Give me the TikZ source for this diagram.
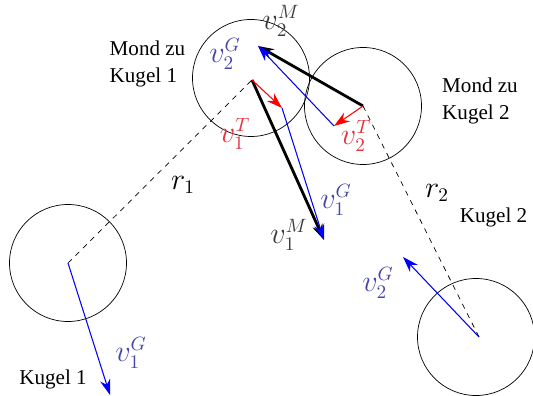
\documentclass[tikz,border=0pt]{standalone}
\usepackage{amsmath,amssymb}
\usepackage{fontspec}
\setmainfont{Liberation Serif}
\usepackage{tikz}
\usetikzlibrary{arrows.meta,calc}

\definecolor{labblue}{RGB}{70,70,170}
\definecolor{labred}{RGB}{230,50,60}
\definecolor{labgray}{RGB}{60,60,60}

\begin{document}
\begin{tikzpicture}[>={Stealth[length=9pt,width=6pt]}, every node/.style={font=\fontsize{12}{15}\selectfont},
    body/.style={thin},
    grav/.style={->, blue, semithick},
    tang/.style={->, red, semithick},
    moon/.style={->, black, line width=1.6pt},
    conn/.style={dashed, thin},
    vlab/.style={font=\fontsize{16}{18}\selectfont, inner sep=1pt},
    glab/.style={vlab, text=labblue},
    tlab/.style={vlab, text=labred},
    mlab/.style={vlab, text=labgray}]
    \useasboundingbox (0,0) rectangle (10.66,7.92);

    % Centres
    \coordinate (K1) at (1.36,2.66);
    \coordinate (M1) at (5.04,6.32);
    \coordinate (M2) at (7.26,5.80);
    \coordinate (K2) at (9.58,1.18);

    % Tips of the vectors
    \coordinate (K1G) at ($(K1)+(0.84,-2.64)$);
    \coordinate (M1T) at ($(M1)+(0.60,-0.56)$);
    \coordinate (M1G) at ($(M1T)+(0.84,-2.64)$);
    \coordinate (K2G) at ($(K2)+(-1.52,1.60)$);
    \coordinate (M2T) at ($(M2)+(-0.58,-0.40)$);
    \coordinate (M2G) at ($(M2T)+(-1.52,1.60)$);

    % Bodies
    \draw[body] (K1) circle (1.17);
    \draw[body] (5.02,6.36) circle (1.17);
    \draw[body] (M2) circle (1.17);
    \draw[body] (9.52,1.18) circle (1.17);

    % Distances
    \draw[conn] (K1) -- (M1);
    \draw[conn] (M2) -- (K2);

    % Vectors
    \draw[grav] (K1) -- (K1G);
    \draw[grav] (K2) -- (K2G);
    \draw[moon] (M1) -- (M1G);
    \draw[moon] (M2) -- (M2G);
    \draw[grav] (M1T) -- (M1G);
    \draw[grav] (M2T) -- (M2G);
    \draw[tang] (M1) -- (M1T);
    \draw[tang] (M2) -- (M2T);

    % Labels
    \node[align=left] (mk1) at (2.95,6.64) {Mond zu\\Kugel 1};
    \node[align=left] (mk2) at (9.60,5.90) {Mond zu\\Kugel 2};
    \node (k1) at (1.06,0.34) {Kugel 1};
    \node (k2) at (9.87,3.58) {Kugel 2};
    \node[vlab] (r1) at (3.66,4.22) {$r_1$};
    \node[vlab] (r2) at (8.74,4.06) {$r_2$};
    \node[glab] (lk1g) at (2.62,0.86) {$v_1^G$};
    \node[glab] (lk2g) at (7.56,2.26) {$v_2^G$};
    \node[glab] (lm1g) at (6.72,3.92) {$v_1^G$};
    \node[glab] (lm2g) at (4.50,6.84) {$v_2^G$};
    \node[mlab] (lm1m) at (5.78,3.22) {$v_1^M$};
    \node[mlab] (lm2m) at (5.62,7.50) {$v_2^M$};
    \node[tlab] (lm1t) at (4.70,5.24) {$v_1^T$};
    \node[tlab] (lm2t) at (7.12,5.20) {$v_2^T$};
\end{tikzpicture}
\end{document}
